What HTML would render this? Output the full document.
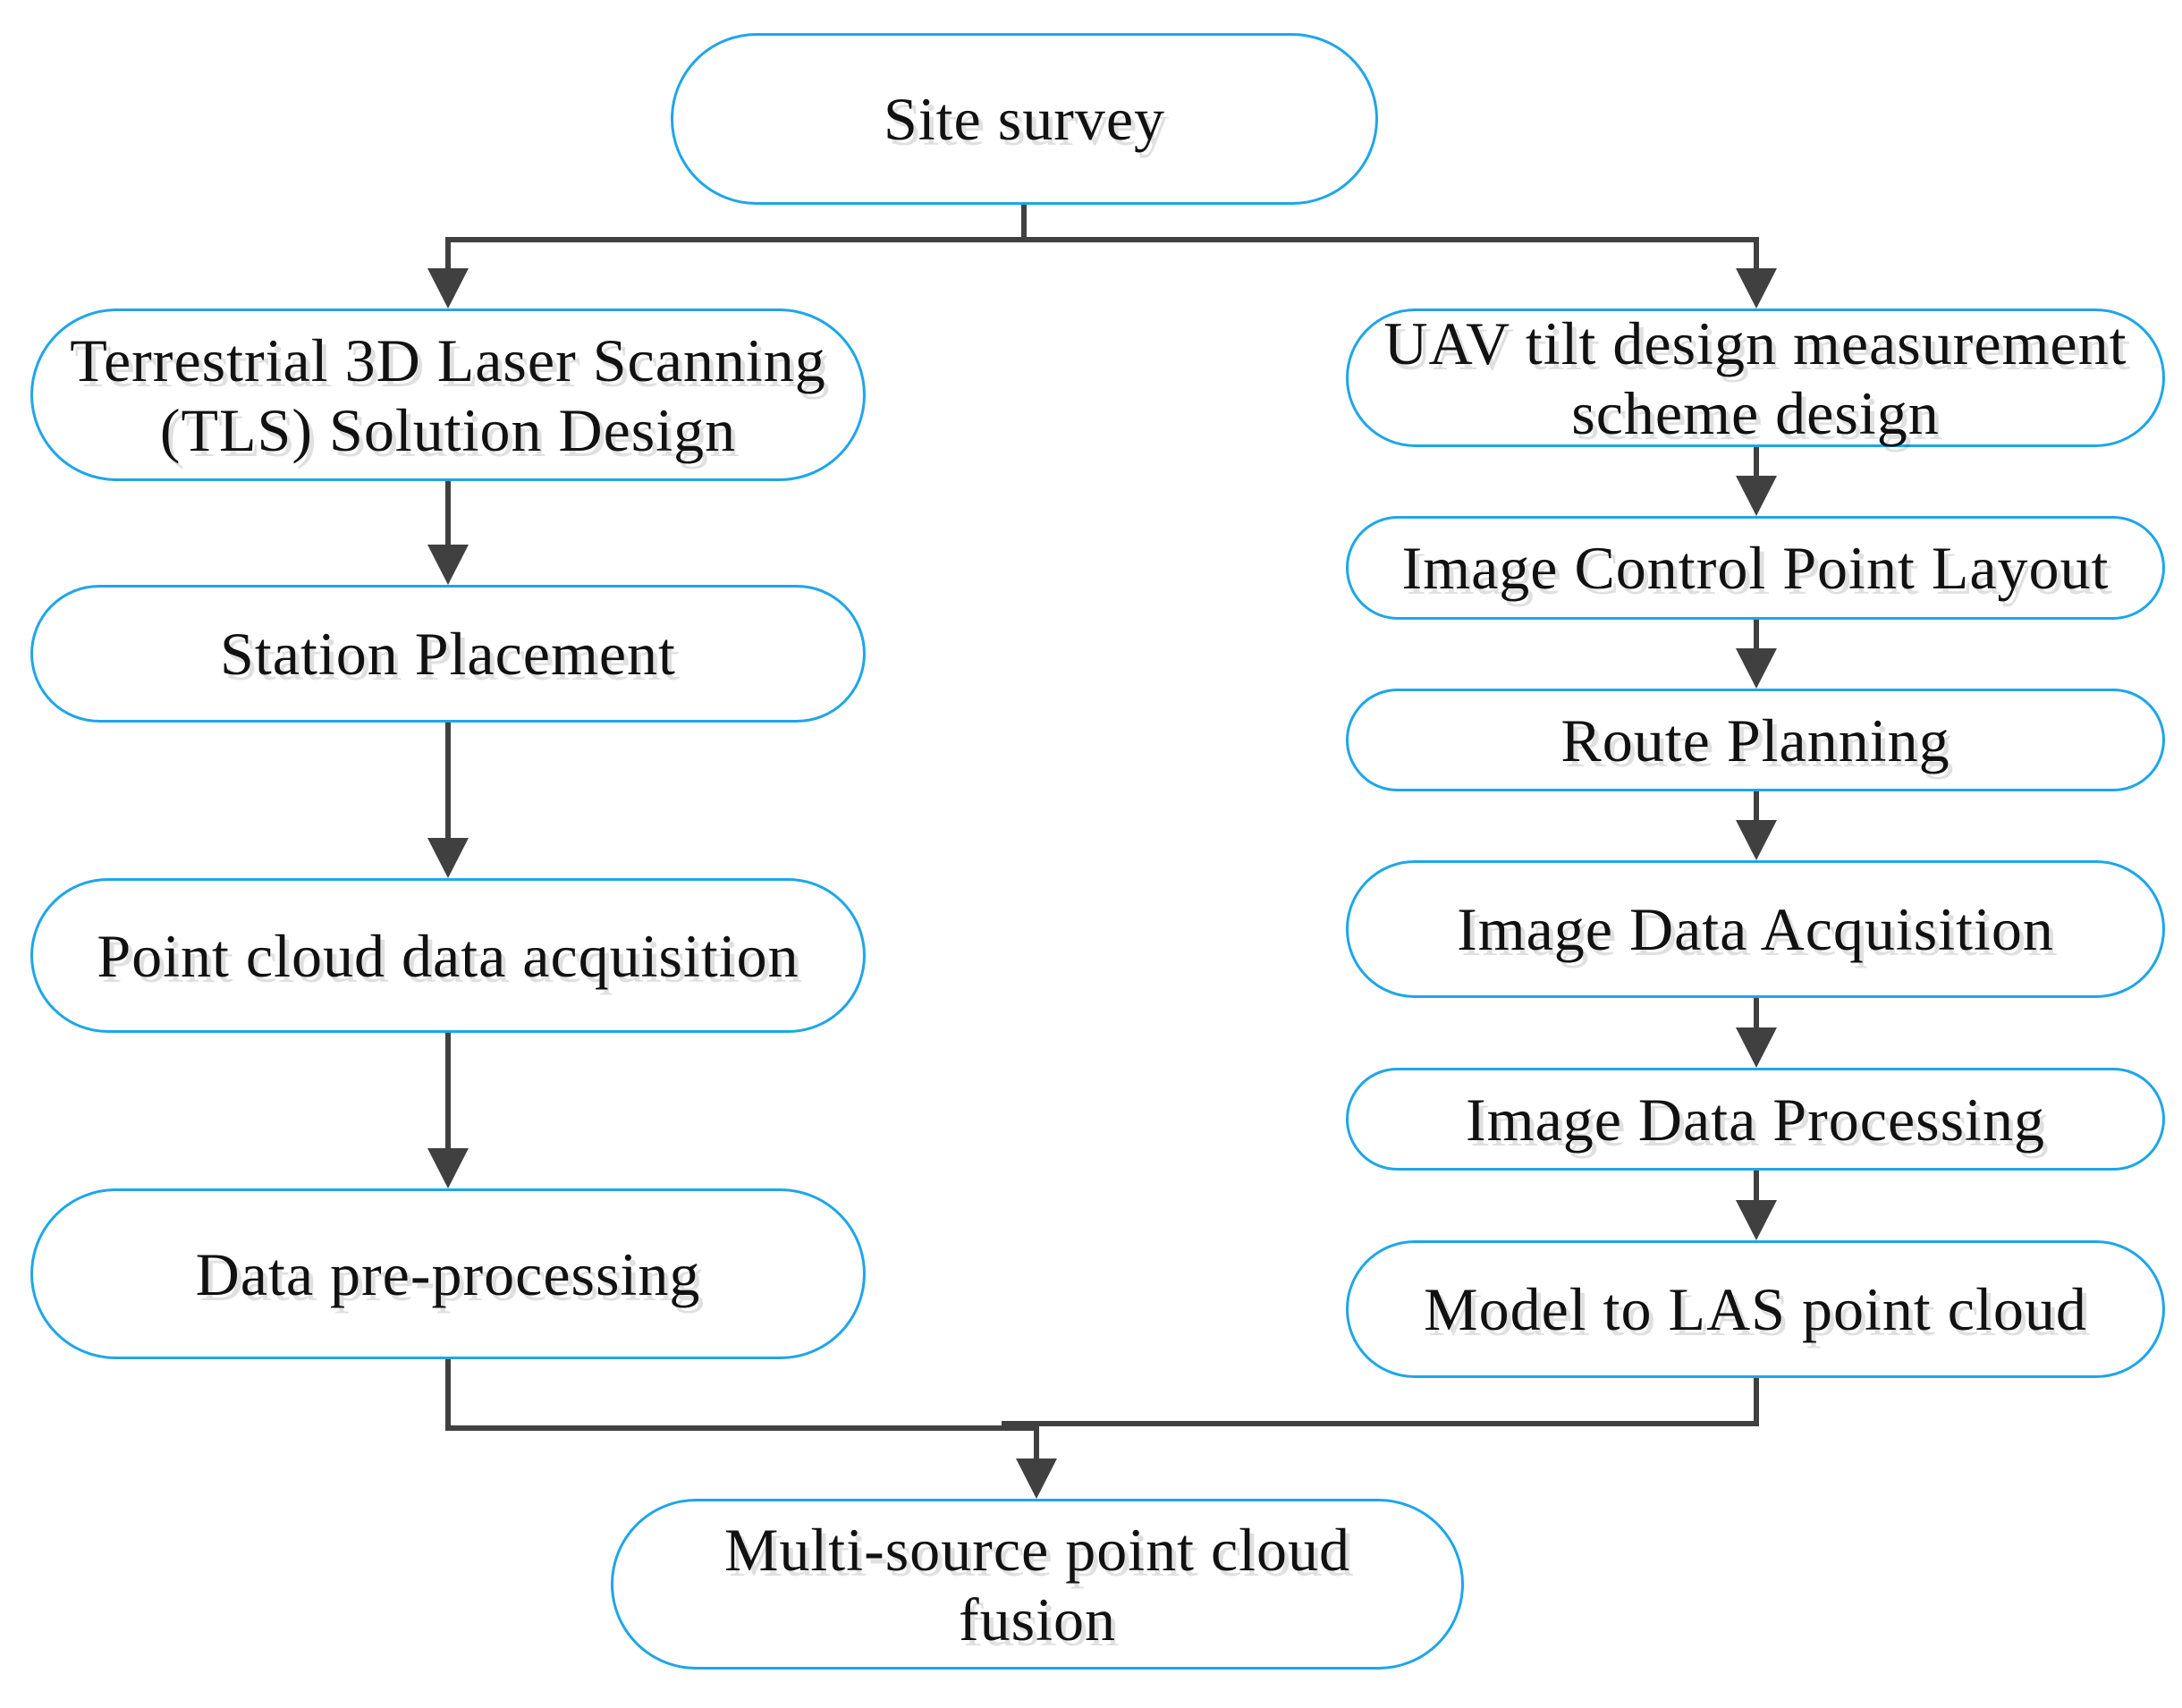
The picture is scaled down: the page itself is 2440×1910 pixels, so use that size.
<!DOCTYPE html>
<html><head><style>
body{margin:0;background:#fff;width:2440px;height:1910px;position:relative;overflow:hidden}
.b{position:absolute;box-sizing:border-box;border:3px solid #1ea6ea;border-radius:100px;display:flex;align-items:center;justify-content:center;text-align:center;font-family:"Liberation Serif",serif;font-size:68px;letter-spacing:1px;line-height:78px;color:#111;text-shadow:5px 6px 0 rgba(0,0,0,0.12);white-space:nowrap}
svg{position:absolute;left:0;top:0}
</style></head><body>
<svg width="2440" height="1910">
<g stroke="#404040" stroke-width="6" fill="none">
<polyline points="1145,229 1145,268"/>
<polyline points="501,310 501,268 1964,268 1964,310"/>
<line x1="501" y1="538" x2="501" y2="612"/>
<line x1="501" y1="808" x2="501" y2="940"/>
<line x1="501" y1="1155" x2="501" y2="1287"/>
<line x1="1964" y1="500" x2="1964" y2="540"/>
<line x1="1964" y1="693" x2="1964" y2="733"/>
<line x1="1964" y1="885" x2="1964" y2="925"/>
<line x1="1964" y1="1116" x2="1964" y2="1157"/>
<line x1="1964" y1="1309" x2="1964" y2="1350"/>
<polyline points="501,1520 501,1597 1159,1597"/>
<polyline points="1120,1592 1964,1592 1964,1541"/>
<line x1="1159" y1="1592" x2="1159" y2="1636"/>
</g>
<g fill="#404040">
<polygon points="478,300 524,300 501,345"/>
<polygon points="1941,300 1987,300 1964,345"/>
<polygon points="478,609 524,609 501,654"/>
<polygon points="478,937 524,937 501,982"/>
<polygon points="478,1284 524,1284 501,1329"/>
<polygon points="1941,532 1987,532 1964,577"/>
<polygon points="1941,725 1987,725 1964,770"/>
<polygon points="1941,917 1987,917 1964,962"/>
<polygon points="1941,1149 1987,1149 1964,1194"/>
<polygon points="1941,1342 1987,1342 1964,1387"/>
<polygon points="1136,1631 1182,1631 1159,1676"/>
</g>
</svg>
<div class="b" style="left:750px;top:37px;width:791px;height:192px">Site survey</div>
<div class="b" style="left:34px;top:345px;width:934px;height:193px">Terrestrial 3D Laser Scanning<br>(TLS) Solution Design</div>
<div class="b" style="left:34px;top:654px;width:934px;height:154px">Station Placement</div>
<div class="b" style="left:34px;top:982px;width:934px;height:173px">Point cloud data acquisition</div>
<div class="b" style="left:34px;top:1329px;width:934px;height:191px">Data pre-processing</div>
<div class="b" style="left:1505px;top:345px;width:916px;height:155px">UAV tilt design measurement<br>scheme design</div>
<div class="b" style="left:1505px;top:577px;width:916px;height:116px">Image Control Point Layout</div>
<div class="b" style="left:1505px;top:770px;width:916px;height:115px">Route Planning</div>
<div class="b" style="left:1505px;top:962px;width:916px;height:154px">Image Data Acquisition</div>
<div class="b" style="left:1505px;top:1194px;width:916px;height:115px">Image Data Processing</div>
<div class="b" style="left:1505px;top:1387px;width:916px;height:154px">Model to LAS point cloud</div>
<div class="b" style="left:683px;top:1676px;width:954px;height:191px">Multi-source point cloud<br>fusion</div>
</body></html>
